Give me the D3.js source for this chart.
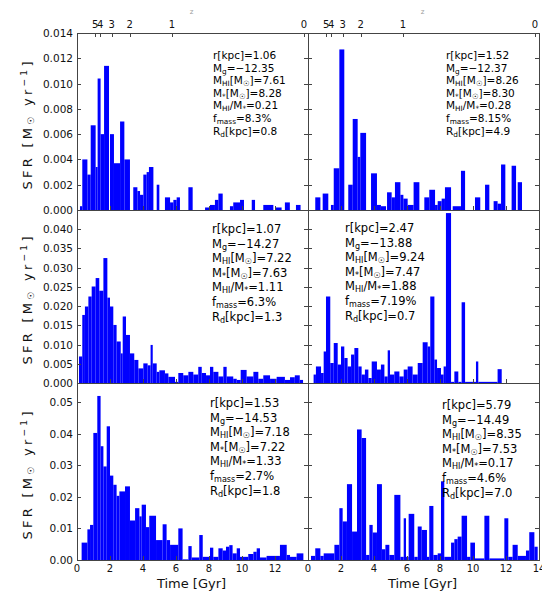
<!DOCTYPE html>
<html>
<head>
<meta charset="utf-8">
<script src="https://cdn.jsdelivr.net/npm/d3@7"></script>
<style>
  body { margin: 0; background: #fff; }
  svg { font-family: "DejaVu Sans", sans-serif; }
</style>
</head>
<body>
<svg id="drawSpace" width="542" height="593"></svg>
<script>
// star formation histories, one array per galaxy: [t start (Gyr), t end (Gyr), SFR (Msun/yr)]
const sfrA = [
  [0.18,0.32,0.0003],[0.32,0.63,0.0040],[0.63,0.83,0.0028],[0.83,1.13,0.0067],[1.13,1.25,0.0034],
  [1.25,1.43,0.0104],[1.43,1.64,0.0060],[1.64,1.94,0.0114],[2.0,2.24,0.0060],[2.24,2.61,0.0037],
  [2.61,2.87,0.0070],[2.87,3.21,0.0040],[3.41,3.66,0.0018],[3.66,3.82,0.0015],[3.82,4.02,0.0012],
  [4.02,4.22,0.0028],[4.22,4.36,0.0030],[4.36,4.63,0.0034],[4.83,4.99,0.0020],[5.33,5.64,0.0010],
  [5.64,5.84,0.0006],[5.84,6.04,0.0008],[6.04,6.24,0.0010],[6.75,7.01,0.0018],[7.76,8.06,0.0002],
  [8.06,8.36,0.0004],[8.36,8.57,0.0008],[8.57,8.83,0.0013],[9.27,9.47,0.0003],[9.47,9.88,0.0006],
  [9.88,10.12,0.0008],[10.59,10.79,0.0008],[11.29,11.9,0.0004],[12.0,12.4,0.0002],[12.6,12.9,0.0006],
  [13.27,13.55,0.0004]
];
const sfrB = [
  [0.44,0.75,0.0010],[0.89,1.23,0.0013],[1.39,1.56,0.0004],[1.56,1.90,0.0033],[1.90,2.20,0.0127],
  [2.44,2.71,0.0020],[2.71,3.01,0.0072],[3.01,3.17,0.0042],[3.17,3.52,0.0061],[3.82,4.18,0.0029],
  [4.18,4.42,0.0004],[4.42,4.73,0.0003],[4.79,5.07,0.0014],[5.07,5.27,0.0010],[5.27,5.60,0.0022],
  [5.60,5.78,0.0012],[5.78,6.04,0.0009],[6.04,6.40,0.0004],[6.40,6.75,0.0022],[7.05,7.35,0.0010],
  [7.35,7.70,0.0016],[7.70,7.86,0.0004],[7.86,8.10,0.0007],[8.10,8.30,0.0009],[8.30,8.67,0.0018],
  [8.77,9.27,0.0003],[9.27,9.52,0.0031],[10.12,10.44,0.0010],[10.73,10.99,0.0020],[11.25,11.49,0.0007],
  [11.49,11.70,0.0005],[11.70,11.96,0.0036],[12.34,12.61,0.0035],[12.71,12.97,0.0022]
];
const sfrC = [
  [0.12,0.32,0.0069],[0.32,0.48,0.0177],[0.48,0.69,0.0199],[0.69,0.89,0.0225],[0.89,1.13,0.0251],
  [1.13,1.35,0.0273],[1.35,1.60,0.0240],[1.60,1.84,0.0325],[1.84,2.0,0.0222],[2.0,2.2,0.0199],
  [2.2,2.4,0.0151],[2.4,2.65,0.0108],[2.65,2.77,0.0077],[2.77,2.97,0.0173],[2.97,3.21,0.0125],
  [3.21,3.47,0.0077],[3.47,3.72,0.0060],[3.72,4.02,0.0038],[4.02,4.28,0.0051],[4.28,4.46,0.0046],
  [4.46,4.59,0.0099],[4.59,4.83,0.0051],[4.83,4.99,0.0029],[4.99,5.33,0.0033],[5.33,5.54,0.0025],
  [5.54,5.94,0.0016],[5.94,6.14,0.0003],[6.14,6.44,0.0026],[6.44,6.75,0.0020],[6.75,7.05,0.0029],
  [7.05,7.35,0.0022],[7.35,7.56,0.0042],[7.56,7.82,0.0026],[7.82,8.06,0.0020],[8.06,8.26,0.0042],
  [8.26,8.57,0.0029],[8.57,8.87,0.0017],[8.87,9.07,0.0042],[9.07,9.47,0.0017],[9.47,9.68,0.0011],
  [9.68,9.92,0.0008],[9.92,10.28,0.0034],[10.28,10.69,0.0017],[10.69,10.99,0.0029],[10.99,11.29,0.0011],
  [11.29,11.7,0.0020],[11.7,12.1,0.0011],[12.1,12.6,0.0016],[12.6,12.91,0.0008],[12.91,13.2,0.0015],
  [13.2,13.5,0.0020],[13.5,13.7,0.0008]
];
const sfrD = [
  [0.34,0.48,0.0022],[0.48,0.79,0.0043],[0.79,0.95,0.0026],[0.95,1.09,0.0082],[1.09,1.35,0.0225],
  [1.35,1.56,0.0052],[1.56,1.80,0.0104],[1.80,2.0,0.0048],[2.0,2.2,0.0095],[2.2,2.4,0.0065],
  [2.4,2.61,0.0043],[2.61,2.81,0.0074],[2.81,3.05,0.0091],[3.05,3.25,0.0043],[3.25,3.45,0.0022],
  [3.45,3.66,0.0035],[3.66,3.86,0.0013],[3.86,4.18,0.0056],[4.18,4.42,0.0035],[4.42,4.63,0.0048],
  [4.63,4.83,0.0017],[4.83,4.97,0.0085],[4.97,5.23,0.0022],[5.23,5.54,0.0030],[5.54,5.80,0.0017],
  [5.80,6.04,0.0035],[6.04,6.34,0.0043],[6.34,6.65,0.0022],[6.65,6.95,0.0052],[6.95,7.25,0.0106],
  [7.25,7.41,0.0095],[7.41,7.66,0.0225],[7.66,7.82,0.0061],[7.82,8.06,0.0039],[8.06,8.22,0.0022],
  [8.22,8.36,0.0043],[8.36,8.67,0.0442],[8.67,8.87,0.0003],[8.87,9.11,0.0030],[9.11,9.31,0.0003],
  [9.31,9.52,0.0210],[9.52,10.18,0.0003],[10.18,10.32,0.0056],[10.32,11.49,0.0003],[11.49,11.74,0.0036]
];
const sfrE = [
  [0.28,0.63,0.0055],[0.63,0.79,0.0097],[0.79,0.99,0.0111],[0.99,1.23,0.0402],[1.23,1.43,0.0519],
  [1.43,1.60,0.0360],[1.60,1.80,0.0296],[1.80,2.0,0.0423],[2.0,2.2,0.0267],[2.2,2.4,0.0238],
  [2.4,2.57,0.0203],[2.57,2.91,0.0217],[2.91,3.21,0.0233],[3.21,3.52,0.0125],[3.52,3.78,0.0164],
  [3.78,3.92,0.0138],[3.92,4.18,0.0175],[4.18,4.38,0.0104],[4.38,4.79,0.0140],[4.79,5.19,0.0063],
  [5.19,5.43,0.0113],[5.43,5.64,0.0063],[5.64,6.14,0.0048],[6.14,6.40,0.0100],[6.40,6.75,0.0002],
  [6.75,6.95,0.0044],[6.95,7.41,0.0008],[7.41,7.62,0.0079],[7.62,8.06,0.0010],[8.06,8.26,0.0039],
  [8.26,8.57,0.0010],[8.57,8.83,0.0037],[8.83,9.03,0.0030],[9.03,9.23,0.0042],[9.23,9.43,0.0047],
  [9.43,9.68,0.0021],[9.68,9.88,0.0037],[9.88,10.18,0.0010],[10.18,10.38,0.0010],[10.38,10.69,0.0019],
  [10.69,10.89,0.0026],[10.89,11.09,0.0037],[11.09,11.49,0.0008],[11.49,12.3,0.0013],[12.3,12.71,0.0048],
  [12.71,12.91,0.0016],[12.91,13.31,0.0010],[13.31,13.72,0.0021]
];
const sfrF = [
  [0.18,0.44,0.0013],[0.44,0.75,0.0037],[0.75,0.95,0.0013],[0.95,1.60,0.0021],[1.60,1.90,0.0048],
  [1.90,2.10,0.0164],[2.10,2.36,0.0122],[2.36,2.67,0.0240],[2.67,2.97,0.0090],[2.97,3.25,0.0413],
  [3.25,3.52,0.0386],[3.52,3.72,0.0016],[3.72,3.92,0.0111],[3.92,4.18,0.0087],[4.18,4.48,0.0240],
  [4.48,4.69,0.0034],[4.69,4.93,0.0048],[4.93,5.23,0.0016],[5.23,5.60,0.0206],[5.60,5.80,0.0010],
  [5.80,5.94,0.0132],[5.94,6.10,0.0010],[6.10,6.44,0.0146],[6.44,6.65,0.0010],[6.65,6.89,0.0106],
  [6.89,7.21,0.0095],[7.21,7.35,0.0010],[7.35,7.60,0.0171],[7.60,7.86,0.0016],[7.86,8.06,0.0021],
  [8.06,8.26,0.0249],[8.26,8.67,0.0010],[8.67,8.87,0.0055],[8.87,9.07,0.0066],[9.07,9.31,0.0074],
  [9.31,9.64,0.0140],[9.64,9.84,0.0010],[9.84,10.12,0.0055],[10.12,10.69,0.0005],[10.69,10.99,0.0140],
  [10.99,11.90,0.0005],[11.90,12.14,0.0132],[12.14,12.40,0.0010],[12.40,12.71,0.0048],[12.71,13.21,0.0013],
  [13.21,13.41,0.0030],[13.41,13.72,0.0088],[13.72,13.92,0.0042]
];

// galaxy properties printed in each panel
const infoA = ['r[kpc]=1.06','M_{g}=−12.35','M_{HI}[M_{☉}]=7.61','M_{*}[M_{☉}]=8.28','M_{HI}/M_{*}=0.21','f_{mass}=8.3%','R_{d}[kpc]=0.8'];
const infoB = ['r[kpc]=1.52','M_{g}=−12.37','M_{HI}[M_{☉}]=8.26','M_{*}[M_{☉}]=8.30','M_{HI}/M_{*}=0.28','f_{mass}=8.15%','R_{d}[kpc]=4.9'];
const infoC = ['r[kpc]=1.07','M_{g}=−14.27','M_{HI}[M_{☉}]=7.22','M_{*}[M_{☉}]=7.63','M_{HI}/M_{*}=1.11','f_{mass}=6.3%','R_{d}[kpc]=1.3'];
const infoD = ['r[kpc]=2.47','M_{g}=−13.88','M_{HI}[M_{☉}]=9.24','M_{*}[M_{☉}]=7.47','M_{HI}/M_{*}=1.88','f_{mass}=7.19%','R_{d}[kpc]=0.7'];
const infoE = ['r[kpc]=1.53','M_{g}=−14.53','M_{HI}[M_{☉}]=7.18','M_{*}[M_{☉}]=7.22','M_{HI}/M_{*}=1.33','f_{mass}=2.7%','R_{d}[kpc]=1.8'];
const infoF = ['r[kpc]=5.79','M_{g}=−14.49','M_{HI}[M_{☉}]=8.35','M_{*}[M_{☉}]=7.53','M_{HI}/M_{*}=0.17','f_{mass}=4.6%','R_{d}[kpc]=7.0'];

const xTicks = [0, 2, 4, 6, 8, 10, 12, 14];
const zLabels = ['5', '4', '3', '2', '1', '0'];
const zTimes = [1.1, 1.4, 2.1, 3.2, 5.75, 13.75];
const yTicksTop = [0, 0.002, 0.004, 0.006, 0.008, 0.010, 0.012, 0.014];
const yTicksMid = [0, 0.005, 0.010, 0.015, 0.020, 0.025, 0.030, 0.035, 0.040];
const yTicksBot = [0, 0.01, 0.02, 0.03, 0.04, 0.05];

const colX = [[77, 308], [308, 539]];
const rowY = [[33, 210], [210, 383], [383, 560]];
const rowMax = [0.014, 0.045, 0.056];
const rowTicks = [yTicksTop, yTicksMid, yTicksBot];
const rowFmt = [d3.format('.3f'), d3.format('.3f'), d3.format('.2f')];
const lineStep = [12.6, 14.6, 14.6];
const infoSize = [10.5, 11.5, 11.5];

const panels = [
  { row: 0, col: 0, bars: sfrA, info: infoA, tx: 213, ty: 59 },
  { row: 0, col: 1, bars: sfrB, info: infoB, tx: 446, ty: 59 },
  { row: 1, col: 0, bars: sfrC, info: infoC, tx: 212, ty: 233 },
  { row: 1, col: 1, bars: sfrD, info: infoD, tx: 345, ty: 232 },
  { row: 2, col: 0, bars: sfrE, info: infoE, tx: 210, ty: 407 },
  { row: 2, col: 1, bars: sfrF, info: infoF, tx: 442, ty: 409 }
];

const svg = d3.select('#drawSpace');

// write "A_{b}" / "A^{b}" strings as tspans
function richText(sel, str) {
  const parts = str.split(/(_\{[^}]*\}|\^\{[^}]*\})/).filter((p) => p !== '');
  let shift = 0;
  parts.forEach((p) => {
    let dy = 0, size = null, txt = p;
    if (p[0] === '_') { txt = p.slice(2, -1); dy = 2 - shift; shift = 2; size = '0.7em'; }
    else if (p[0] === '^') { txt = p.slice(2, -1); dy = -5 - shift; shift = -5; size = '0.7em'; }
    else { dy = -shift; shift = 0; }
    const t = sel.append('tspan').attr('dy', dy).text(txt);
    if (size) t.attr('font-size', size);
  });
}

panels.forEach((p) => {
  const [x0, x1] = colX[p.col];
  const [y0, y1] = rowY[p.row];
  const x = d3.scaleLinear().domain([0, 14]).range([x0, x1]);
  const y = d3.scaleLinear().domain([0, rowMax[p.row]]).range([y1, y0]);

  const g = svg.append('g');
  g.selectAll('rect.bar')
    .data(p.bars)
    .enter()
    .append('rect')
    .attr('class', 'bar')
    .attr('x', (d) => x(d[0]))
    .attr('width', (d) => x(d[1]) - x(d[0]))
    .attr('y', (d) => y(d[2]))
    .attr('height', (d) => y(0) - y(d[2]))
    .attr('fill', '#0000ff');

  // inward ticks on both sides and along the bottom
  const ticks = rowTicks[p.row];
  g.selectAll('line.yl').data(ticks).enter().append('line')
    .attr('x1', x0).attr('x2', x0 + 4)
    .attr('y1', (d) => Math.round(y(d)) + 0.5).attr('y2', (d) => Math.round(y(d)) + 0.5)
    .attr('stroke', '#444');
  g.selectAll('line.yr').data(ticks).enter().append('line')
    .attr('x1', x1 - 4).attr('x2', x1)
    .attr('y1', (d) => Math.round(y(d)) + 0.5).attr('y2', (d) => Math.round(y(d)) + 0.5)
    .attr('stroke', '#444');
  g.selectAll('line.xb').data(xTicks).enter().append('line')
    .attr('x1', (d) => Math.round(x(d)) + 0.5).attr('x2', (d) => Math.round(x(d)) + 0.5)
    .attr('y1', y1 - 4).attr('y2', y1)
    .attr('stroke', '#444');

  g.append('rect')
    .attr('x', x0 + 0.5).attr('y', y0 + 0.5)
    .attr('width', x1 - x0).attr('height', y1 - y0)
    .attr('fill', 'none').attr('stroke', '#444').attr('stroke-width', 1);

  if (p.col === 0) {
    g.selectAll('text.ytick').data(ticks).enter().append('text')
      .attr('x', x0 - 4).attr('y', (d) => y(d) + 4)
      .attr('text-anchor', 'end').attr('font-size', 10.5).attr('fill', '#111')
      .text((d) => rowFmt[p.row](d));

    const lab = g.append('text')
      .attr('transform', 'translate(32,' + ((y0 + y1) / 2 + 4) + ') rotate(-90)')
      .attr('text-anchor', 'middle').attr('font-size', 13).attr('fill', '#111')
      .attr('textLength', 128).attr('lengthAdjust', 'spacing');
    richText(lab, 'SFR [M_{☉} yr^{−1}]');
  }

  if (p.row === 0) {
    g.selectAll('line.zt').data(zTimes).enter().append('line')
      .attr('x1', (d) => Math.round(x(d)) + 0.5).attr('x2', (d) => Math.round(x(d)) + 0.5)
      .attr('y1', y0).attr('y2', y0 + 4).attr('stroke', '#444');
    g.selectAll('text.zl').data(zLabels).enter().append('text')
      .attr('x', (d, i) => x(zTimes[i])).attr('y', y0 - 5)
      .attr('text-anchor', 'middle').attr('font-size', 10).attr('fill', '#111')
      .text((d) => d);
    g.append('text')
      .attr('x', (x0 + x1) / 2 - 1).attr('y', 14)
      .attr('text-anchor', 'middle').attr('font-size', 7).attr('fill', '#999')
      .text('z');
  }

  if (p.row === 2) {
    const labs = p.col === 0 ? xTicks.slice(0, -1) : xTicks;
    g.selectAll('text.xtick').data(labs).enter().append('text')
      .attr('x', (d) => x(d)).attr('y', y1 + 12)
      .attr('text-anchor', 'middle').attr('font-size', 10).attr('fill', '#111')
      .text((d) => d);
    g.append('text')
      .attr('x', (x0 + x1) / 2 - 1).attr('y', y1 + 28)
      .attr('text-anchor', 'middle').attr('font-size', 13).attr('fill', '#111')
      .text('Time [Gyr]');
  }

  const info = g.append('g').attr('font-size', infoSize[p.row]).attr('fill', '#000');
  p.info.forEach((line, i) => {
    const t = info.append('text').attr('x', p.tx).attr('y', p.ty + i * lineStep[p.row]);
    richText(t, line);
  });
});
</script>
</body>
</html>
